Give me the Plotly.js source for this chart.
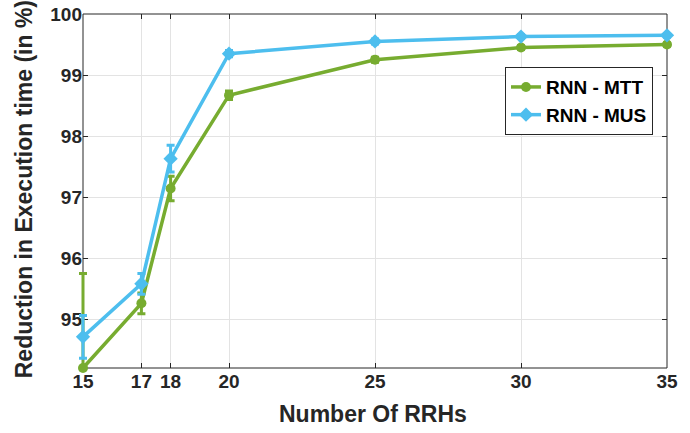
<!DOCTYPE html>
<html>
<head>
<meta charset="utf-8">
<script src="https://cdn.plot.ly/plotly-3.0.1.min.js"></script>
<style>html,body{margin:0;padding:0;background:#fff}</style>
</head>
<body>
<div id="chart" style="width:690px;height:433px"></div>
<script>
const rrhs = [15, 17, 18, 20, 25, 30, 35];
const mtt = [94.2, 95.26, 97.14, 98.67, 99.25, 99.45, 99.5];
const mttErrPlus = [1.55, 0.17, 0.2, 0.07, 0.04, 0.03, 0.03];
const mttErrMinus = [0, 0.17, 0.2, 0.07, 0.04, 0.03, 0.03];
const mus = [94.71, 95.58, 97.63, 99.35, 99.55, 99.63, 99.65];
const musErr = [0.35, 0.17, 0.22, 0.05, 0.04, 0.03, 0.03];
const xTicks = [15, 17, 18, 20, 25, 30, 35];
const yTicks = [95, 96, 97, 98, 99, 100];
const xTitle = 'Number Of RRHs';
const yTitle = 'Reduction in Execution time (in %)';

const green = '#77AC30', blue = '#4DBEEE';
const fam = 'Liberation Sans, Arial, sans-serif';
const traces = [
  {x: rrhs, y: mtt, name: 'RNN - MTT', mode: 'lines+markers', type: 'scatter', cliponaxis: false,
   line: {color: green, width: 3.5}, marker: {symbol: 'circle', size: 10, color: green},
   error_y: {type: 'data', symmetric: false, array: mttErrPlus, arrayminus: mttErrMinus, visible: true, color: green, thickness: 3, width: 4}},
  {x: rrhs, y: mus, name: 'RNN - MUS', mode: 'lines+markers', type: 'scatter', cliponaxis: false,
   line: {color: blue, width: 3.5}, marker: {symbol: 'diamond', size: 11, color: blue},
   error_y: {type: 'data', array: musErr, visible: true, color: blue, thickness: 3, width: 4}}
];
const tickFont = {family: fam, size: 19, color: '#262626', weight: 'bold'};
const titleFont = {family: fam, size: 23, color: '#262626', weight: 'bold'};
const layout = {
  width: 690, height: 433,
  margin: {l: 83, r: 23, t: 14, b: 65},
  paper_bgcolor: '#fff', plot_bgcolor: '#fff',
  showlegend: true,
  legend: {x: 0.7226, y: 0.85, xanchor: 'left', yanchor: 'top', bordercolor: '#262626', borderwidth: 1,
    bgcolor: '#fff', tracegroupgap: 0, itemwidth: 30,
    font: {family: fam, size: 19, color: '#000', weight: 'bold'}},
  shapes: [{type: 'rect', xref: 'paper', yref: 'paper', x0: 0, x1: 1, y0: 0, y1: 1,
    line: {color: '#262626', width: 1}, layer: 'below'}],
  annotations: [
    {text: xTitle, xref: 'paper', yref: 'paper', x: 0.497, y: -0.13, xanchor: 'center', yanchor: 'middle',
     showarrow: false, font: titleFont},
    {text: yTitle, xref: 'paper', yref: 'paper', x: -0.101, y: 0.505, xanchor: 'center', yanchor: 'middle',
     textangle: -90, showarrow: false, font: titleFont}
  ],
  xaxis: {range: [15, 35], tickvals: xTicks, ticktext: xTicks.map(String), showgrid: true, gridcolor: '#e3e3e3',
    zeroline: false, showline: false, mirror: 'ticks', ticks: 'inside', ticklen: 5,
    tickcolor: '#262626', tickfont: tickFont, layer: 'below traces'},
  yaxis: {range: [94.2, 100], tickvals: yTicks, showgrid: true, gridcolor: '#e3e3e3',
    zeroline: false, showline: false, mirror: 'ticks', ticks: 'inside', ticklen: 5,
    tickcolor: '#262626', tickfont: tickFont, layer: 'below traces'}
};
Plotly.newPlot('chart', traces, layout, {displayModeBar: false, staticPlot: true}).then(function (gd) {
  gd.querySelectorAll('.scatterlayer [clip-path], .scatterlayer').forEach(function (el) {
    el.removeAttribute('clip-path');
  });
});
</script>
</body>
</html>
